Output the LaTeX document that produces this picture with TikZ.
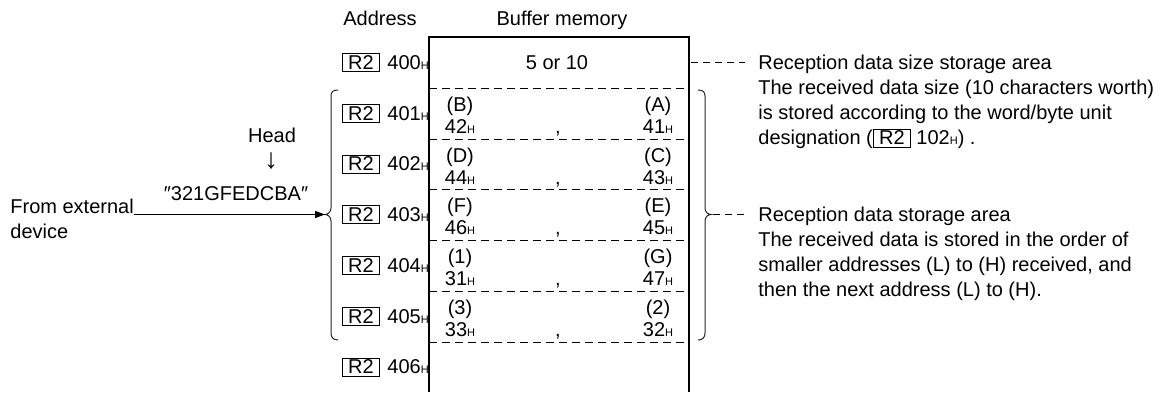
\documentclass[tikz,border=0pt]{standalone}
\usepackage{fontspec}
\setmainfont{Liberation Sans}
\usetikzlibrary{arrows.meta,positioning}

\newcommand{\hx}[1]{#1{\fontsize{5.5}{6}\selectfont H}}
\newcommand{\rtwo}{{\setlength{\fboxsep}{0pt}\setlength{\fboxrule}{0.5pt}\fbox{\rule[-1pt]{0pt}{8.5pt}\makebox[18pt]{R2}}}}

\begin{document}
\begin{tikzpicture}[x=0.5pt,y=-0.5pt,>={Triangle[length=5pt,width=3.5pt]},
  every node/.style={font=\fontsize{10}{12.5}\selectfont,inner sep=0pt},
  node distance=3.5pt,
  regbox/.style={draw,line width=0.5pt,minimum width=18.5pt,minimum height=9pt},
  cell/.style={anchor=base},
  memline/.style={line width=1.2pt},
  rowsep/.style={line width=0.5pt,dash pattern=on 4pt off 2.5pt},
  brace/.style={line width=0.5pt,black!85},
  leader/.style={line width=0.5pt,dash pattern=on 3.5pt off 2.5pt}]
\useasboundingbox (0,0) rectangle (1175,392);

% column heads
\node[anchor=base] (addrhead) at (380,25) {Address};
\node[anchor=base] (bufhead) at (562,25) {Buffer memory};

% buffer memory, open at the bottom
\draw[memline] (429,392) -- (429,37) -- (689,37) -- (689,392);
\draw[rowsep] (429,88) -- (689,88);
\draw[rowsep] (429,139) -- (689,139);
\draw[rowsep] (429,189) -- (689,189);
\draw[rowsep] (429,240) -- (689,240);
\draw[rowsep] (429,291) -- (689,291);
\draw[rowsep] (429,342) -- (689,342);

% addresses
\node[regbox] (r400) at (361,62.5) {R2};
\node[right=of r400] (a400) {\hx{400}};
\node[regbox] (r401) at (361,113.5) {R2};
\node[right=of r401] (a401) {\hx{401}};
\node[regbox] (r402) at (361,164) {R2};
\node[right=of r402] (a402) {\hx{402}};
\node[regbox] (r403) at (361,214.5) {R2};
\node[right=of r403] (a403) {\hx{403}};
\node[regbox] (r404) at (361,265.5) {R2};
\node[right=of r404] (a404) {\hx{404}};
\node[regbox] (r405) at (361,316.5) {R2};
\node[right=of r405] (a405) {\hx{405}};
\node[regbox] (r406) at (361,367) {R2};
\node[right=of r406] (a406) {\hx{406}};

% contents
\node (v400) at (557,62.5) {5 or 10};
\node[cell] (u401l) at (460,111) {(B)};
\node[cell] (u401r) at (658,111) {(A)};
\node[cell] (d401l) at (460,133) {\hx{42}};
\node[cell] (c401) at (558,133) {,};
\node[cell] (d401r) at (658,133) {\hx{41}};
\node[cell] (u402l) at (460,162) {(D)};
\node[cell] (u402r) at (658,162) {(C)};
\node[cell] (d402l) at (460,184) {\hx{44}};
\node[cell] (c402) at (558,184) {,};
\node[cell] (d402r) at (658,184) {\hx{43}};
\node[cell] (u403l) at (460,212) {(F)};
\node[cell] (u403r) at (658,212) {(E)};
\node[cell] (d403l) at (460,234) {\hx{46}};
\node[cell] (c403) at (558,234) {,};
\node[cell] (d403r) at (658,234) {\hx{45}};
\node[cell] (u404l) at (460,263) {(1)};
\node[cell] (u404r) at (658,263) {(G)};
\node[cell] (d404l) at (460,285) {\hx{31}};
\node[cell] (c404) at (558,285) {,};
\node[cell] (d404r) at (658,285) {\hx{47}};
\node[cell] (u405l) at (460,314) {(3)};
\node[cell] (u405r) at (658,314) {(2)};
\node[cell] (d405l) at (460,336) {\hx{33}};
\node[cell] (c405) at (558,336) {,};
\node[cell] (d405r) at (658,336) {\hx{32}};

% braces round 401 to 405
\coordinate (ltip) at (325,214.5);
\coordinate (rtip) at (711,214.5);
\draw[brace] (338,90) .. controls (333,90) and (331,92) .. (331,96) -- (331,208)
  .. controls (331,212) and (328,214.5) .. (ltip) .. controls (328,214.5) and (331,217) .. (331,221)
  -- (331,333) .. controls (331,337) and (333,340) .. (338,340);
\draw[brace] (698,90) .. controls (703,90) and (705,92) .. (705,96) -- (705,208)
  .. controls (705,212) and (708,214.5) .. (rtip) .. controls (708,214.5) and (705,217) .. (705,221)
  -- (705,333) .. controls (705,337) and (703,340) .. (698,340);

% sender side
\node[anchor=base west,align=left] (src) at (10,238.5) {From external\\device};
\node[anchor=base] (str) at (236,200) {″321GFEDCBA″};
\node[anchor=base] (head) at (272,142) {Head};
\node[anchor=base] (headarr) at (271,168) {\fontsize{14}{14}\selectfont ↓};
\draw[->,line width=0.6pt] (src.east |- ltip) -- (ltip);

% notes
\node[anchor=base west,align=left] (sztxt) at (758,144.5) {Reception data size storage area\\The received data size (10 characters worth)\\is stored according to the word/byte unit\\designation (\rtwo\ \hx{102}) .};
\node[anchor=base west,align=left] (rxtxt) at (758,296.5) {Reception data storage area\\The received data is stored in the order of\\smaller addresses (L) to (H) received, and\\then the next address (L) to (H).};
\coordinate (szfrom) at (691,62.5);
\coordinate (szto) at (745,62.5);
\draw[leader] (szfrom) -- (szto);
\draw[leader] ([xshift=1pt]rtip) -- (rtip -| szto);
\end{tikzpicture}
\end{document}
